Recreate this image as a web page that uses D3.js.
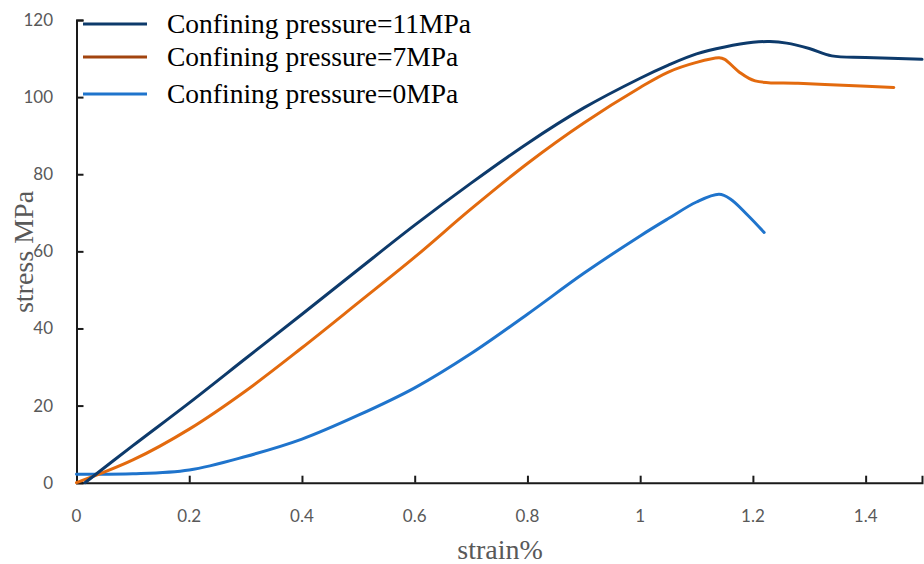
<!DOCTYPE html>
<html><head><meta charset="utf-8">
<script src="https://cdn.jsdelivr.net/npm/d3@7"></script>
<style>body{margin:0;background:#fff;} svg{display:block;}</style>
</head><body>
<svg id="c" width="924" height="564"></svg>
<script>
const xTicks = [0, 0.2, 0.4, 0.6, 0.8, 1, 1.2, 1.4];
const yTicks = [0, 20, 40, 60, 80, 100, 120];
const seriesNames = ["Confining pressure=11MPa", "Confining pressure=7MPa", "Confining pressure=0MPa"];
const seriesColors = ["#0d3a6b", "#e36a0e", "#1f74cc"];
const legendColors = ["#0d3a6b", "#a2440f", "#1f74cc"];
const strain11 = [0.015,0.1,0.2,0.3,0.4,0.5,0.6,0.7,0.8,0.9,1.0,1.05,1.1,1.15,1.2,1.23,1.26,1.3,1.34,1.4,1.5];
const stress11 = [0,9.6,20.7,32.2,43.7,55.3,66.8,77.7,88,97.2,104.9,108.3,111.2,113,114.2,114.4,114,112.6,110.7,110.3,109.8];
const strain7 = [0,0.1,0.2,0.3,0.4,0.5,0.6,0.7,0.8,0.9,1.0,1.05,1.1,1.14,1.15,1.175,1.204,1.28,1.37,1.45];
const stress7 = [0,5.9,13.9,23.8,35,46.7,58.5,71,82.8,93.3,102.5,106.5,109,110.2,109.8,106.6,104.2,103.6,103,102.5];
const strain0 = [0,0.1,0.2,0.3,0.4,0.5,0.6,0.7,0.8,0.9,1.0,1.05,1.1,1.14,1.16,1.19,1.22];
const stress0 = [2.2,2.3,3.3,6.8,11.3,17.5,24.6,33.5,43.7,54.3,64,68.5,72.8,74.8,73.6,69.5,64.9];

const svg = d3.select("#c");
const x = d3.scaleLinear().domain([0, 1.5]).range([76.5, 922]);
const y = d3.scaleLinear().domain([0, 120]).range([482.7, 20]);

const tickFont = "Lato, 'Open Sans', sans-serif";
const serif = "'Liberation Serif', 'Times New Roman', serif";

// axes via d3 axis generators
const xAxisG = svg.append("g").attr("transform", `translate(0,${y(0)})`)
  .call(d3.axisBottom(x).tickValues(xTicks).tickSize(-7).tickFormat(""));
const yAxisG = svg.append("g").attr("transform", `translate(${x(0)},0)`)
  .call(d3.axisLeft(y).tickValues(yTicks).tickSize(-7).tickFormat(""));
svg.selectAll(".domain, .tick line").attr("stroke", "#1a1a1a").attr("stroke-width", 2);

// curves
const data = [
  strain11.map((s, i) => [s, stress11[i]]),
  strain7.map((s, i) => [s, stress7[i]]),
  strain0.map((s, i) => [s, stress0[i]])
];
const line = d3.line().x(d => x(d[0])).y(d => y(d[1])).curve(d3.curveCatmullRom.alpha(0.5));
[2, 1, 0].forEach(i => {
  svg.append("path").attr("d", line(data[i])).attr("fill", "none")
    .attr("stroke", seriesColors[i]).attr("stroke-width", 3).attr("stroke-linejoin", "round").attr("stroke-linecap", "round");
});

const fmt = d3.format("~g");
svg.selectAll(".xl").data(xTicks).enter().append("text")
  .attr("x", d => x(d)).attr("y", 522).attr("text-anchor", "middle")
  .attr("fill", "#595959").style("font-family", tickFont).style("font-size", "17px").text(d => fmt(d));
svg.selectAll(".yl").data(yTicks).enter().append("text")
  .attr("x", 53).attr("y", d => y(d) + 6).attr("text-anchor", "end")
  .attr("fill", "#595959").style("font-family", tickFont).style("font-size", "17px").text(d => fmt(d));

// axis titles
svg.append("text").attr("x", 500).attr("y", 559).attr("text-anchor", "middle")
  .attr("fill", "#595959").style("font-family", serif).style("font-size", "28px").text("strain%");
svg.append("text").attr("transform", "translate(33,252) rotate(-90)").attr("text-anchor", "middle")
  .attr("fill", "#595959").style("font-family", serif).style("font-size", "28px").text("stress MPa");

// legend
const legY = [24, 57, 94];
seriesNames.forEach((n, i) => {
  svg.append("line").attr("x1", 83).attr("x2", 147).attr("y1", legY[i]).attr("y2", legY[i])
    .attr("stroke", legendColors[i]).attr("stroke-width", 3);
  svg.append("text").attr("x", 167).attr("y", legY[i] + 9).attr("fill", "#000")
    .style("font-family", serif).style("font-size", "27.5px").text(n);
});
</script>
</body></html>
